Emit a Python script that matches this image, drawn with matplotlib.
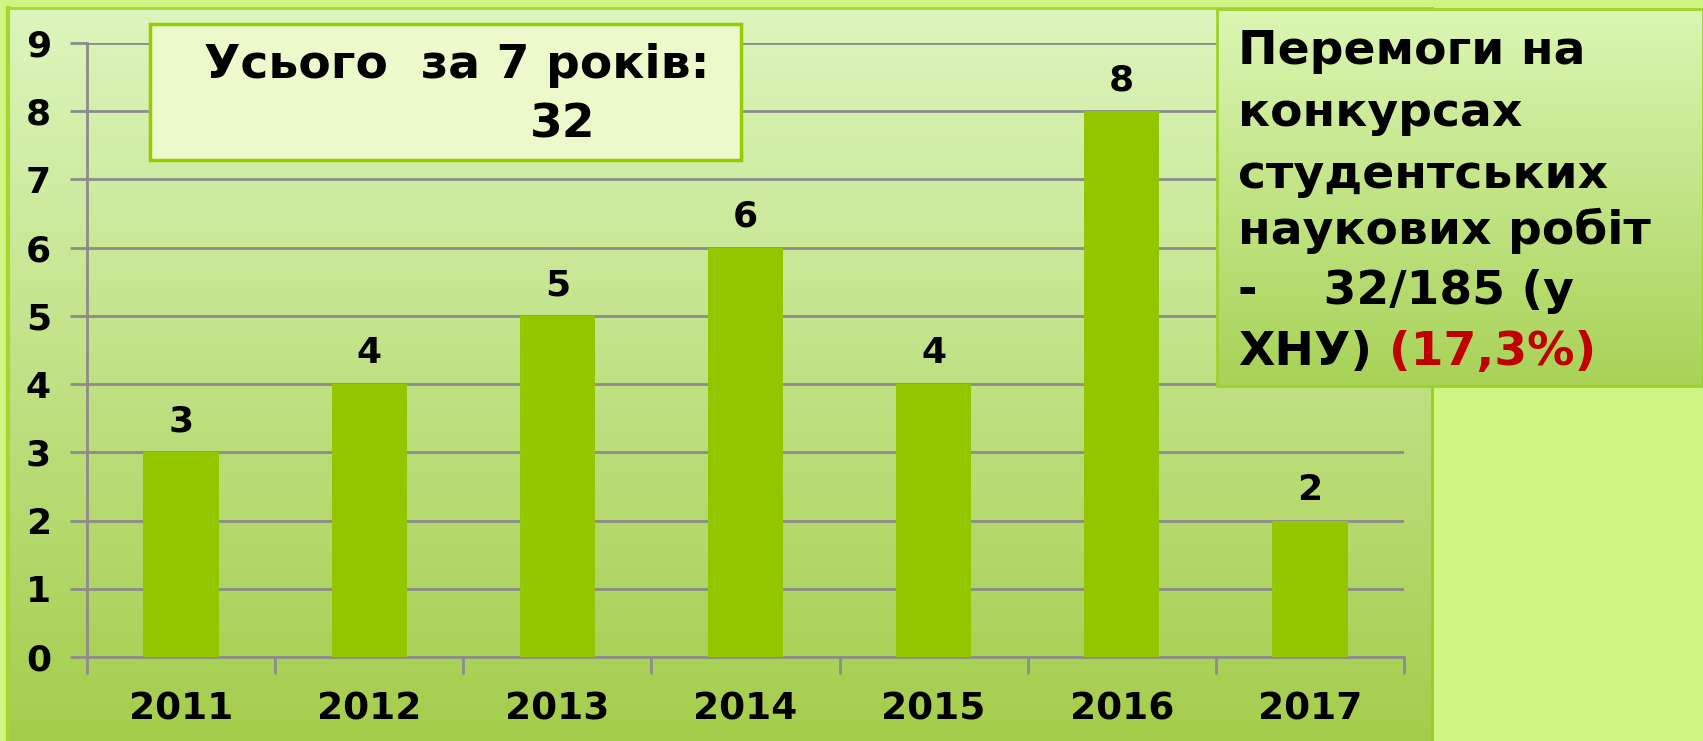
import numpy as np
import matplotlib.pyplot as plt
from matplotlib.patches import Rectangle
from matplotlib.colors import LinearSegmentedColormap

years = ["2011", "2012", "2013", "2014", "2015", "2016", "2017"]
wins = [3, 4, 5, 6, 4, 8, 2]
total_text = ["Усього  за 7 років:", "32"]
side_lines = ["Перемоги на", "конкурсах", "студентських", "наукових робіт", "-    32/185 (у"]
last_black = "ХНУ)"
last_red = "(17,3%)"

W, H = 1703, 741
fig = plt.figure(figsize=(W / 100, H / 100), dpi=100)
fig.patch.set_facecolor("#d0f585")


def fx(px):
    return px / W


def fy(py):
    return 1 - py / H


def gradient_axes(x0, y0, x1, y1, top, bottom, z):
    a = fig.add_axes([fx(x0), fy(y1), fx(x1 - x0), (y1 - y0) / H], zorder=z)
    cmap = LinearSegmentedColormap.from_list("g", [top, bottom])
    a.imshow(np.linspace(0, 1, 256).reshape(-1, 1), cmap=cmap, aspect="auto",
             extent=[0, 1, 0, 1])
    a.set_axis_off()
    return a


# chart area background
gradient_axes(9, 9, 1432, 741, "#ddf5bd", "#a5cd4c", 0)
fig.add_artist(plt.Line2D([fx(8), fx(8)], [0, fy(8)], color="#a8d62e", lw=3, zorder=1))
fig.add_artist(plt.Line2D([fx(8), fx(1432)], [fy(8), fy(8)], color="#a8d62e", lw=2, zorder=1))
fig.add_artist(plt.Line2D([fx(1432), fx(1432)], [0, fy(8)], color="#9ccf1c", lw=2, zorder=1))

ax = fig.add_axes([fx(87), fy(657), fx(1404 - 87), (657 - 43) / H], zorder=2)
ax.patch.set_alpha(0)
x = np.arange(len(years))
bars = ax.bar(x, wins, width=0.4, color="#94c600", zorder=3)
ax.set_xlim(-0.5, len(years) - 0.5)
ax.set_ylim(0, 9)
ax.set_yticks(range(10))
ax.set_yticklabels([str(v) for v in range(10)])
ax.set_xticks(x)
ax.set_xticklabels(years)
ax.set_xticks(np.arange(-0.5, len(years)), minor=True)
ax.tick_params(axis="x", which="major", length=0, pad=25)
ax.tick_params(axis="x", which="minor", length=12, width=2, color="#8c8c8c", direction="out")
ax.tick_params(axis="y", length=12, width=2, color="#8c8c8c", pad=14)
for lab in ax.get_xticklabels():
    lab.set_fontsize(27)
    lab.set_fontweight("bold")
for lab in ax.get_yticklabels():
    lab.set_fontsize(26)
    lab.set_fontweight("bold")
ax.grid(axis="y", color="#8c8c8c", lw=2, zorder=1)
for s in ["top", "right"]:
    ax.spines[s].set_visible(False)
for s in ["left", "bottom"]:
    ax.spines[s].set_color("#8c8c8c")
    ax.spines[s].set_linewidth(2)
for b, v in zip(bars, wins):
    ax.annotate(str(v), (b.get_x() + b.get_width() / 2, v), xytext=(0, 10),
                textcoords="offset points", ha="center", va="bottom",
                fontsize=26, fontweight="bold", zorder=4)

# total box
fig.add_artist(Rectangle((fx(150), fy(160)), fx(741 - 150), (160 - 24) / H,
                         facecolor="#ecfacb", edgecolor="#99cc00", lw=2.5, zorder=5))
fig.text(fx(204), fy(66), total_text[0], fontsize=34, fontweight="bold",
         ha="left", va="center", zorder=6)
fig.text(fx(563), fy(125), total_text[1], fontsize=34, fontweight="bold",
         ha="center", va="center", zorder=6)

# side box
gradient_axes(1217, 9, 1703, 386, "#dcf6b4", "#a8d257", 7)
fig.add_artist(Rectangle((fx(1217), fy(386)), fx(1703 - 1217), (386 - 9) / H,
                         facecolor="none", edgecolor="#9fd22a", lw=2, zorder=8))
ys = [52, 114, 175, 231, 292]
for line, yy in zip(side_lines, ys):
    fig.text(fx(1238), fy(yy), line, fontsize=34, fontweight="bold",
             ha="left", va="center", zorder=9)
t = fig.text(fx(1238), fy(352), last_black, fontsize=34, fontweight="bold",
             ha="left", va="center", zorder=9)
fig.add_artist(plt.Annotation(last_red, xy=(1, 0.5), xycoords=t, xytext=(12, 0),
                              textcoords="offset points", ha="left", va="center",
                              fontsize=34, fontweight="bold", color="#c00000", zorder=9))

fig.savefig("out.png", dpi=100, facecolor=fig.get_facecolor())
